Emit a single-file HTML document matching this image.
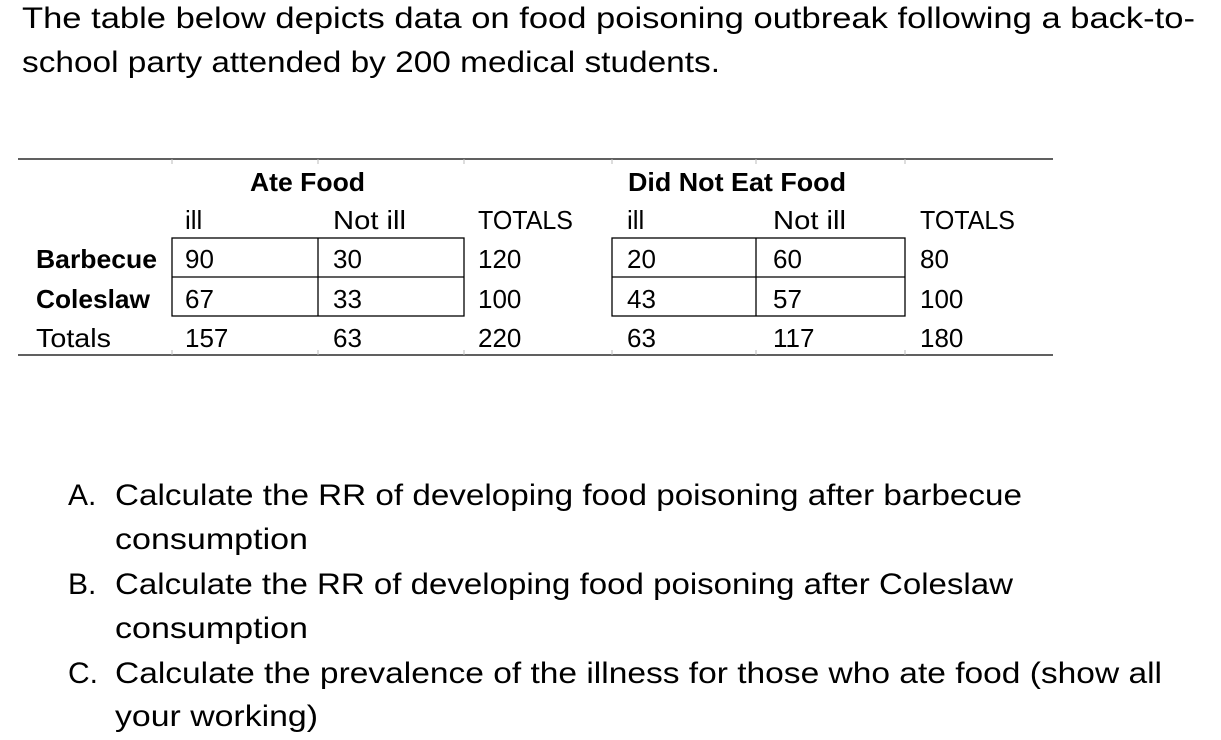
<!DOCTYPE html>
<html><head><meta charset="utf-8"><style>
html,body{margin:0;padding:0;background:#fff;}
svg{display:block;}
text{font-family:"Liberation Sans",sans-serif;fill:#000;}
.t{font-size:30px;}
.tb{font-size:26px;}
.b{font-weight:bold;}
</style></head><body>
<svg width="1221" height="740" viewBox="0 0 1221 740">
<g>
<text class="t" x="22" y="28" textLength="1173" lengthAdjust="spacingAndGlyphs">The table below depicts data on food poisoning outbreak following a back-to-</text>
<text class="t" x="22" y="72" textLength="698" lengthAdjust="spacingAndGlyphs">school party attended by 200 medical students.</text>
</g>
<g stroke="#000" fill="none">
<line x1="18" y1="159" x2="1053" y2="159" stroke-width="1.3"/>
<line x1="18" y1="355" x2="1053" y2="355" stroke-width="1.3"/>
<g stroke="#bbb" stroke-width="1">
<line x1="172" y1="159" x2="172" y2="164"/><line x1="318" y1="159" x2="318" y2="164"/><line x1="464" y1="159" x2="464" y2="164"/><line x1="612" y1="159" x2="612" y2="164"/><line x1="756" y1="159" x2="756" y2="164"/><line x1="905" y1="159" x2="905" y2="164"/>
<line x1="172" y1="350" x2="172" y2="355"/><line x1="318" y1="350" x2="318" y2="355"/><line x1="464" y1="350" x2="464" y2="355"/><line x1="612" y1="350" x2="612" y2="355"/><line x1="756" y1="350" x2="756" y2="355"/><line x1="905" y1="350" x2="905" y2="355"/>
</g>
<rect x="172" y="238" width="292" height="78" stroke-width="1.3"/>
<line x1="172" y1="277" x2="464" y2="277" stroke-width="1.3"/>
<line x1="318" y1="238" x2="318" y2="316" stroke-width="1.3"/>
<rect x="612" y="238" width="293" height="78" stroke-width="1.3"/>
<line x1="612" y1="277" x2="905" y2="277" stroke-width="1.3"/>
<line x1="756" y1="238" x2="756" y2="316" stroke-width="1.3"/>
</g>
<g class="tb">
<text class="tb b" x="250" y="191" textLength="115" lengthAdjust="spacingAndGlyphs">Ate Food</text>
<text class="tb b" x="628" y="191" textLength="218" lengthAdjust="spacingAndGlyphs">Did Not Eat Food</text>
<text class="tb" x="185" y="229">ill</text>
<text class="tb" x="333" y="229" textLength="73" lengthAdjust="spacingAndGlyphs">Not ill</text>
<text class="tb" x="478" y="229" textLength="95" lengthAdjust="spacingAndGlyphs">TOTALS</text>
<text class="tb" x="627" y="229">ill</text>
<text class="tb" x="773" y="229" textLength="73" lengthAdjust="spacingAndGlyphs">Not ill</text>
<text class="tb" x="920" y="229" textLength="95" lengthAdjust="spacingAndGlyphs">TOTALS</text>
<text class="tb b" x="36" y="268" textLength="121" lengthAdjust="spacingAndGlyphs">Barbecue</text>
<text class="tb b" x="36" y="308" textLength="114" lengthAdjust="spacingAndGlyphs">Coleslaw</text>
<text class="tb" x="36" y="347" textLength="75" lengthAdjust="spacingAndGlyphs">Totals</text>
<text class="tb" x="185" y="268">90</text><text class="tb" x="333" y="268">30</text><text class="tb" x="478" y="268">120</text>
<text class="tb" x="627" y="268">20</text><text class="tb" x="773" y="268">60</text><text class="tb" x="920" y="268">80</text>
<text class="tb" x="185" y="308">67</text><text class="tb" x="333" y="308">33</text><text class="tb" x="478" y="308">100</text>
<text class="tb" x="627" y="308">43</text><text class="tb" x="773" y="308">57</text><text class="tb" x="920" y="308">100</text>
<text class="tb" x="185" y="347">157</text><text class="tb" x="333" y="347">63</text><text class="tb" x="478" y="347">220</text>
<text class="tb" x="627" y="347">63</text><text class="tb" x="773" y="347">117</text><text class="tb" x="920" y="347">180</text>
</g>
<g>
<text class="t" x="68" y="505">A.</text>
<text class="t" x="115" y="505" textLength="907" lengthAdjust="spacingAndGlyphs">Calculate the RR of developing food poisoning after barbecue</text>
<text class="t" x="115" y="549" textLength="193" lengthAdjust="spacingAndGlyphs">consumption</text>
<text class="t" x="68" y="594">B.</text>
<text class="t" x="115" y="594" textLength="898" lengthAdjust="spacingAndGlyphs">Calculate the RR of developing food poisoning after Coleslaw</text>
<text class="t" x="115" y="638" textLength="193" lengthAdjust="spacingAndGlyphs">consumption</text>
<text class="t" x="68" y="683">C.</text>
<text class="t" x="115" y="683" textLength="1047" lengthAdjust="spacingAndGlyphs">Calculate the prevalence of the illness for those who ate food (show all</text>
<text class="t" x="115" y="726" textLength="203" lengthAdjust="spacingAndGlyphs">your working)</text>
</g>
</svg>
</body></html>
